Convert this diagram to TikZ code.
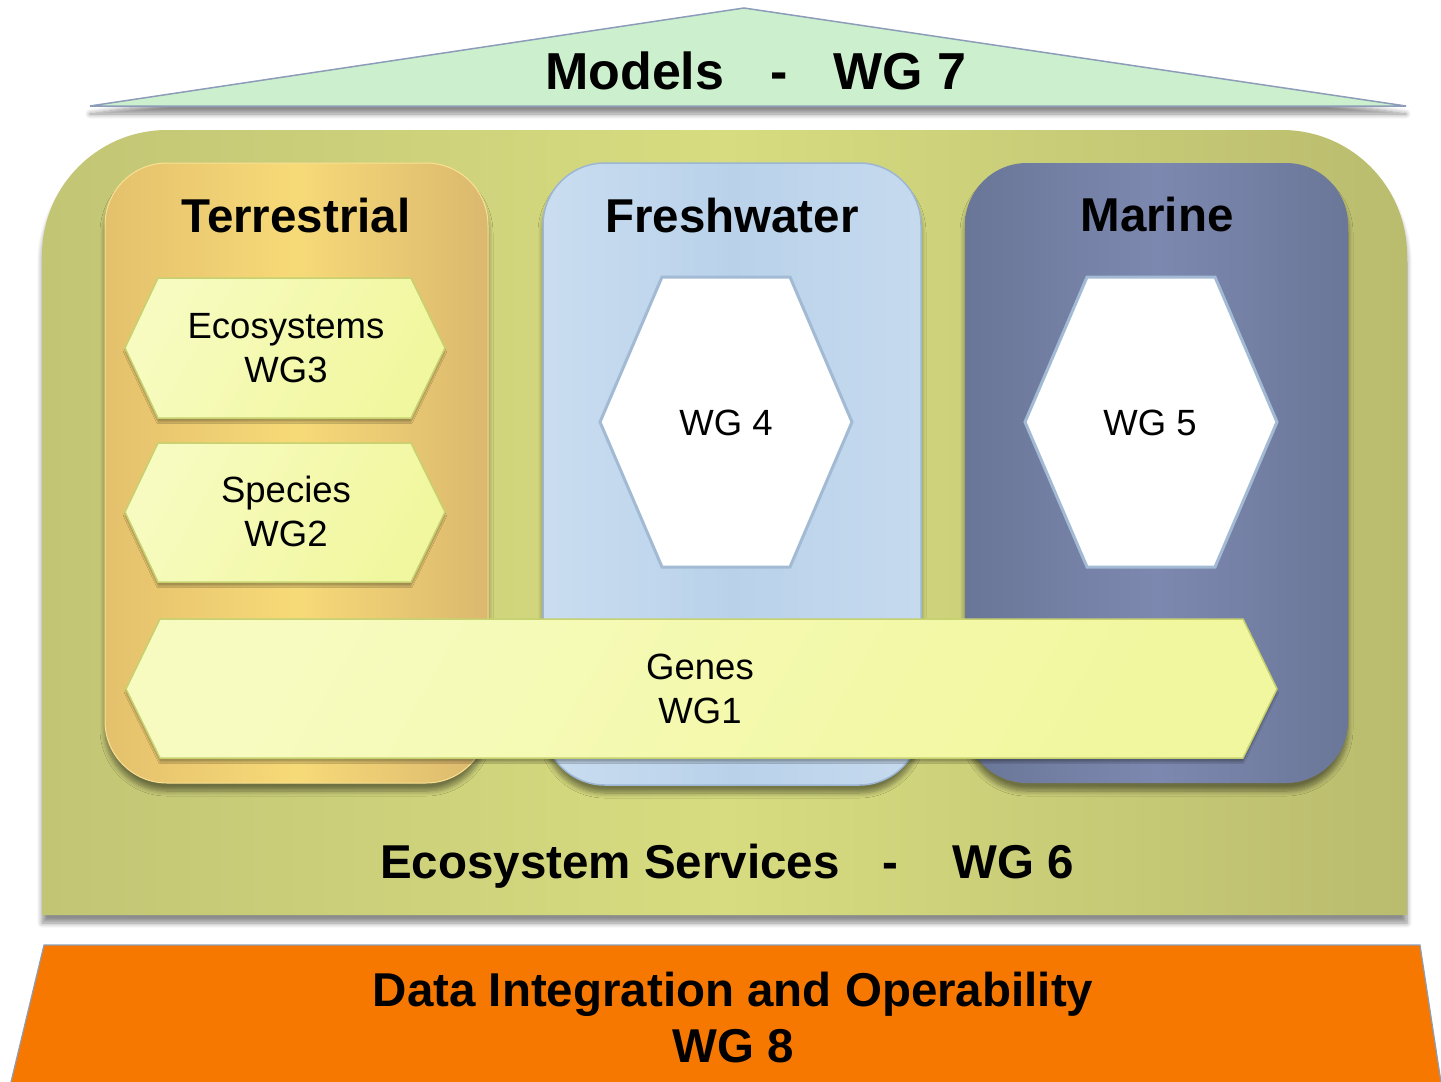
\documentclass[tikz,border=0pt]{standalone}
\usepackage{fontspec}
\setmainfont{Liberation Sans}
\usetikzlibrary{shadows.blur}
\definecolor{roofgreen}{HTML}{CCF0CE}
\definecolor{roofline}{HTML}{8D9DB9}
\definecolor{boxL}{HTML}{C2C574}
\definecolor{boxM}{HTML}{D7DC80}
\definecolor{boxR}{HTML}{BABC6E}
\definecolor{terL}{HTML}{E4C06C}
\definecolor{terM}{HTML}{F7DA78}
\definecolor{terR}{HTML}{DBB86E}
\definecolor{freL}{HTML}{CADDF0}
\definecolor{freM}{HTML}{B9D2EA}
\definecolor{freR}{HTML}{C6DAEE}
\definecolor{freLine}{HTML}{9CB6D4}
\definecolor{marL}{HTML}{6A7697}
\definecolor{marM}{HTML}{7C88AF}
\definecolor{marR}{HTML}{6B7798}
\definecolor{hexY}{HTML}{F1F79E}
\definecolor{hexYL}{HTML}{F7FBC0}
\definecolor{hexLine}{HTML}{C6D170}
\definecolor{wLine}{HTML}{A2BAD3}
\definecolor{orangeB}{HTML}{F77800}
\definecolor{baseLine}{HTML}{8E9DB6}
\tikzset{
  bigbold/.style={font=\fontsize{47.5}{57}\selectfont\bfseries, inner sep=0pt, anchor=base},
  roofbold/.style={font=\fontsize{52}{60}\selectfont\bfseries, inner sep=0pt, anchor=base west},
  hextext/.style={font=\fontsize{36.5}{44}\selectfont, inner sep=0pt, anchor=base},
  softshadow/.style={blur shadow={shadow xshift=0pt, shadow yshift=-8pt, shadow blur radius=5pt, shadow blur steps=8, shadow opacity=45}},
  hexshadow/.style={blur shadow={shadow xshift=0pt, shadow yshift=-4pt, shadow blur radius=1.5pt, shadow blur steps=4, shadow opacity=30}},
  yhex/.style={draw=hexLine, line width=1.5pt, left color=hexYL, right color=hexY, shading angle=60, hexshadow},
  whex/.style={draw=wLine, line width=3pt, fill=white},
}
\begin{document}
\begin{tikzpicture}[x=1pt,y=-1pt]
\useasboundingbox (0,0) rectangle (1441,1082);

% roof
\path[fill=roofgreen, draw=roofline, line width=1.5pt, softshadow]
  (90,106) -- (744,8) -- (1406,106) -- cycle;
\node[roofbold] (roofT) at (545,89) {Models\hspace{46pt}-\hspace{46pt}WG 7};

% main box
\shade[left color=boxL, right color=boxR, middle color=boxM, softshadow]
  (42,915) -- (42,255) arc[start angle=180, end angle=270, radius=125]
  -- (1282,130) arc[start angle=270, end angle=360, radius=125]
  -- (1407,915) -- cycle;

% panels
\shade[left color=terL, right color=terR, middle color=terM, rounded corners=62pt, softshadow,
  draw=terM!80!white, line width=1pt]
  (105,163) rectangle (488,783);
\shade[left color=freL, right color=freR, middle color=freM, rounded corners=62pt, softshadow,
  draw=freLine, line width=1.5pt]
  (543,163) rectangle (921,785);
\shade[left color=marL, right color=marR, middle color=marM, rounded corners=62pt, softshadow]
  (965,163) rectangle (1348,783);

\node[bigbold] (terrT) at (296,232) {Terrestrial};
\node[bigbold] (freshT) at (732,232) {Freshwater};
\node[bigbold] (marT) at (1157,231) {Marine};

% terrestrial hexagons
\path[yhex] (158,278) -- (411,278) -- (445,348) -- (411,418) -- (158,418) -- (125,348) -- cycle;
\node[hextext] (ecoT1) at (286,338) {Ecosystems};
\node[hextext] (ecoT2) at (286,382) {WG3};

\path[yhex] (158,443) -- (411,443) -- (445,512) -- (411,582) -- (158,582) -- (125,512) -- cycle;
\node[hextext] (spT1) at (286,502) {Species};
\node[hextext] (spT2) at (286,546) {WG2};

% white hexagons
\path[whex] (662,277) -- (790,277) -- (852,422) -- (790,567) -- (662,567) -- (600,422) -- cycle;
\node[hextext] (wg4) at (726,435) {WG 4};
\path[whex] (1087,277) -- (1215,277) -- (1277,422) -- (1215,567) -- (1087,567) -- (1025,422) -- cycle;
\node[hextext] (wg5) at (1150,435) {WG 5};

% genes arrow
\path[yhex] (160,619) -- (1243,619) -- (1277,689) -- (1243,758) -- (160,758) -- (126,689) -- cycle;
\node[hextext] (genT1) at (700,679) {Genes};
\node[hextext] (genT2) at (700,723) {WG1};

% ecosystem services
\node[bigbold, anchor=base west] (esT) at (380,878) {Ecosystem Services\hspace{43pt}-\hspace{54pt}WG 6};

% base
\fill[orangeB] (44,945) -- (1420,945) -- (1441,1082) -- (11,1082) -- cycle;
\draw[baseLine, line width=1.2pt] (11,1082) -- (44,945) -- (1420,945) -- (1441,1082);
\node[bigbold] (dataT1) at (733,1006) {Data Integration and Operability};
\node[bigbold] (dataT2) at (733,1062) {WG 8};
\end{tikzpicture}
\end{document}
